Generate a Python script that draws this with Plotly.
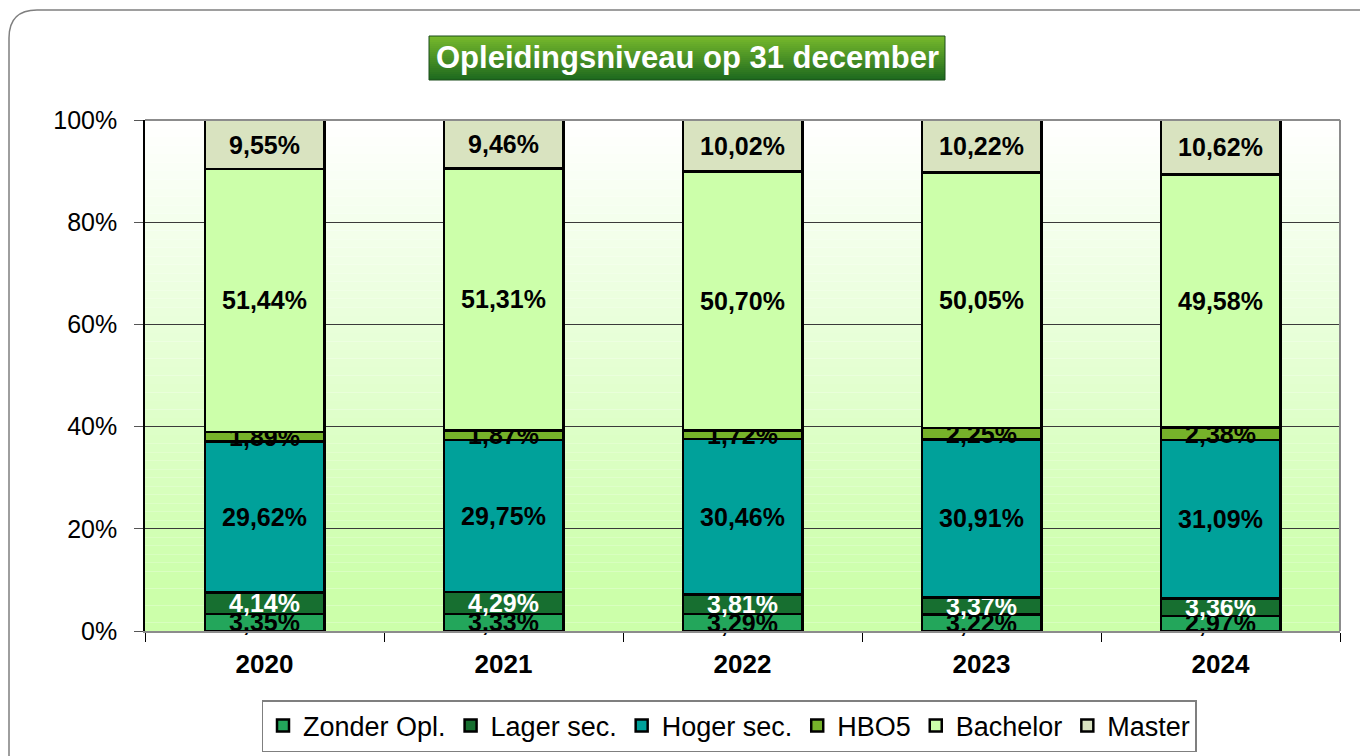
import plotly.graph_objects as go

years = ["2020", "2021", "2022", "2023", "2024"]
zonder_opl = [3.35, 3.33, 3.29, 3.22, 2.97]
lager_sec = [4.14, 4.29, 3.81, 3.37, 3.36]
hoger_sec = [29.62, 29.75, 30.46, 30.91, 31.09]
hbo5 = [1.89, 1.87, 1.72, 2.25, 2.38]
bachelor = [51.44, 51.31, 50.70, 50.05, 49.58]
master = [9.55, 9.46, 10.02, 10.22, 10.62]

series = [
    ("Zonder Opl.", zonder_opl, "#23A65B", "black"),
    ("Lager sec.", lager_sec, "#176F30", "white"),
    ("Hoger sec.", hoger_sec, "#00A19A", "black"),
    ("HBO5", hbo5, "#76B22A", "black"),
    ("Bachelor", bachelor, "#CCFFAA", "black"),
    ("Master", master, "#D9E3C0", "black"),
]

FONT = "Arial, Liberation Sans, sans-serif"


def fmt(v):
    return f"{v:.2f}".replace(".", ",") + "%"


fig = go.Figure()
for name, vals, color, tcolor in series:
    fig.add_trace(go.Bar(
        x=years, y=vals, name=name,
        marker=dict(color=color, line=dict(color="black", width=2.5)),
        text=[fmt(v) for v in vals],
        textposition="inside", insidetextanchor="middle", textangle=0,
        insidetextfont=dict(family=FONT, size=25, color=tcolor, weight="bold"),
        width=0.5, cliponaxis=False,
    ))

# page offset (body margin) -> work in reference pixels, shift by OFF
OFF = 8
FW, FH = 1368, 756
L, R, T, B = 145, 1340, 120, 631
W, H = R - L, B - T


def px(x):
    return (x - L) / W


def py(y):
    return (B - y) / H


YMAX = 100.03

shapes = []
# plot background gradient (white top -> light green bottom)
n = 60
top_c = (255, 255, 255)
bot_c = (204, 255, 170)
for i in range(n):
    y0 = YMAX * i / n
    y1 = YMAX * (i + 1) / n
    t = (i + 0.5) / n  # 0 at bottom, 1 at top
    f = min(1.0, max(0.0, (t - 0.08) / 0.92))
    c = tuple(round(bot_c[k] + (top_c[k] - bot_c[k]) * f) for k in range(3))
    shapes.append(dict(type="rect", xref="paper", yref="y", x0=0, x1=1, y0=y0, y1=y1,
                       fillcolor=f"rgb{c}", line=dict(width=0), layer="below"))

# right and top plot border
shapes.append(dict(type="line", xref="paper", yref="paper", x0=1, x1=1, y0=0, y1=1,
                   line=dict(color="#8C8C8C", width=2), layer="above"))
shapes.append(dict(type="line", xref="paper", yref="paper", x0=0, x1=1, y0=1, y1=1,
                   line=dict(color="#8C8C8C", width=2), layer="above"))

# title gradient box
tb_x0, tb_x1, tb_y0, tb_y1 = 429, 945, 36, 80
m = 22
tc0 = (120, 186, 44)
tc1 = (28, 104, 30)
for i in range(m):
    ya = tb_y0 + (tb_y1 - tb_y0) * i / m
    yb = tb_y0 + (tb_y1 - tb_y0) * (i + 1) / m
    f = (i + 0.5) / m
    c = tuple(round(tc0[k] + (tc1[k] - tc0[k]) * f) for k in range(3))
    shapes.append(dict(type="rect", xref="paper", yref="paper", x0=px(tb_x0), x1=px(tb_x1),
                       y0=py(yb), y1=py(ya), fillcolor=f"rgb{c}", line=dict(width=0)))
shapes.append(dict(type="rect", xref="paper", yref="paper", x0=px(tb_x0), x1=px(tb_x1),
                   y0=py(tb_y1), y1=py(tb_y0), line=dict(color="#1B4D1B", width=1)))

# outer rounded frame
fx0, fy0, fx1, fy1, r = 9, 10, 1385, 760, 28
path = (f"M {px(fx0)},{py(fy1)} L {px(fx0)},{py(fy0 + r)} "
        f"Q {px(fx0)},{py(fy0)} {px(fx0 + r)},{py(fy0)} L {px(fx1)},{py(fy0)}")
shapes.append(dict(type="path", xref="paper", yref="paper", path=path,
                   line=dict(color="#7F7F7F", width=1.5)))

fig.update_layout(
    barmode="stack",
    width=FW, height=FH,
    margin=dict(l=L - OFF, r=FW - (R - OFF), t=T - OFF, b=FH - (B - OFF), pad=0),
    paper_bgcolor="white",
    plot_bgcolor="rgba(0,0,0,0)",
    shapes=shapes,
    uniformtext=dict(minsize=25, mode="show"),
    showlegend=True,
    legend=dict(
        orientation="h", x=px(729), xanchor="center", y=py(700), yanchor="top",
        bgcolor="white", bordercolor="#7F7F7F", borderwidth=1.5,
        font=dict(family=FONT, size=27, color="black"),
        traceorder="normal",
    ),
    annotations=[dict(
        text="<b>Opleidingsniveau op 31 december</b>",
        xref="paper", yref="paper", x=px((tb_x0 + tb_x1) / 2), y=py((tb_y0 + tb_y1) / 2),
        xanchor="center", yanchor="middle", showarrow=False,
        font=dict(family=FONT, size=31, color="white"),
    )],
    xaxis=dict(
        type="category", range=[-0.5, 4.5],
        showline=True, linecolor="#8C8C8C", linewidth=2, mirror=False,
        ticks="outside", tickson="boundaries", ticklen=9, tickcolor="black", tickwidth=1,
        tickfont=dict(family=FONT, size=26, color="black", weight="bold"),
        ticklabelstandoff=9,
        showgrid=False, zeroline=False,
    ),
    yaxis=dict(
        range=[0, YMAX], tickvals=[0, 20, 40, 60, 80, 100],
        ticktext=["0%", "20%", "40%", "60%", "80%", "100%"],
        showline=True, linecolor="black", linewidth=1.5,
        ticks="outside", ticklen=9, tickcolor="#555555",
        tickfont=dict(family=FONT, size=25, color="black"),
        ticklabelstandoff=12,
        showgrid=True, gridcolor="#3A3A3A", gridwidth=1,
        zeroline=False,
    ),
)

fig.write_html("out.html")
